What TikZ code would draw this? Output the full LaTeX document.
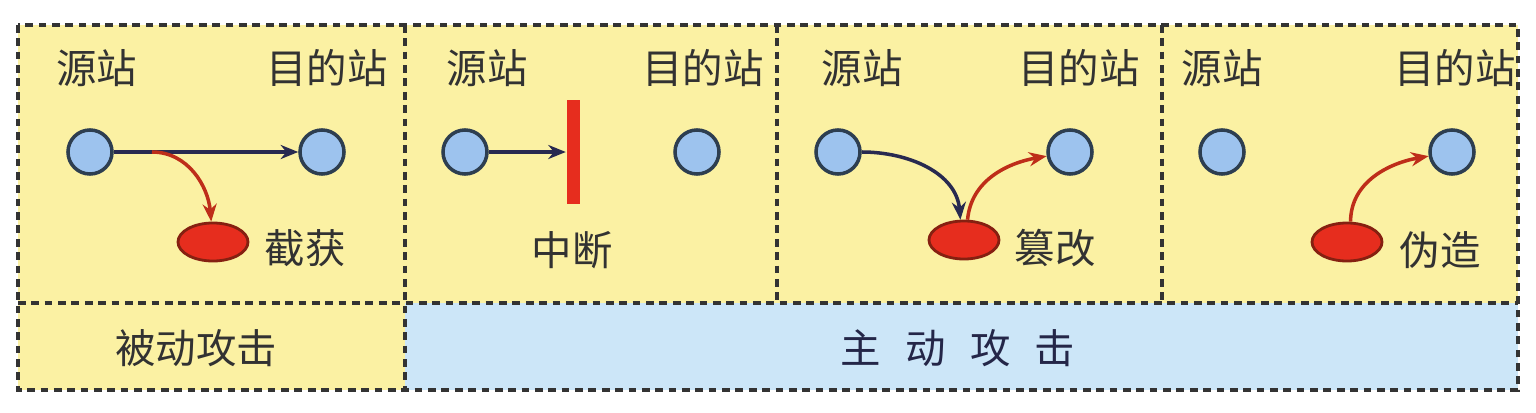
\documentclass[tikz,border=0pt]{standalone}
\usepackage{fontspec}
\setmainfont{Noto Sans CJK SC}
\usetikzlibrary{shapes.geometric,arrows.meta}
\definecolor{paleyellow}{RGB}{251,241,163}
\definecolor{paleblue}{RGB}{204,230,248}
\definecolor{stationblue}{RGB}{157,195,238}
\definecolor{stationrim}{RGB}{45,62,80}
\definecolor{thiefred}{RGB}{230,45,30}
\definecolor{linkred}{RGB}{190,45,25}
\definecolor{linknavy}{RGB}{40,42,80}
\definecolor{inkgray}{RGB}{50,50,50}
\begin{document}
\begin{tikzpicture}[x=0.01cm,y=-0.01cm,
  station/.style={circle, draw=stationrim, line width=1pt, fill=stationblue, minimum size=0.44cm, inner sep=0pt},
  thief/.style={ellipse, draw=linkred!70!black, line width=0.8pt, fill=thiefred, minimum width=0.7cm, minimum height=0.38cm, inner sep=0pt},
  lbl/.style={text=inkgray, font=\fontsize{11.5}{13}\selectfont, inner sep=0pt},
  frame/.style={draw=black!80, line width=1pt, dash pattern=on 2.2pt off 1.6pt},
  good/.style={draw=linknavy, line width=1pt, -{Stealth[length=5pt,width=4pt]}},
  evil/.style={draw=linkred, line width=1pt, -{Stealth[length=5pt,width=4pt]}}]
\useasboundingbox (0,0) rectangle (1536,412);
% background
\fill[paleyellow] (18,25) rectangle (1518,303);
\fill[paleyellow] (18,303) rectangle (405,390);
\fill[paleblue] (405,303) rectangle (1518,390);
% dashed grid
\draw[frame] (18,25) rectangle (1518,390);
\draw[frame] (18,303) -- (1518,303);
\draw[frame] (405,25) -- (405,390);
\draw[frame] (777,25) -- (777,303);
\draw[frame] (1162,25) -- (1162,303);
% bottom row
\node[lbl] (passive) at (196,348) {被动攻击};
\node[lbl, text=linknavy!90!black] (active) at (958,348) {主\hspace{0.6em}动\hspace{0.6em}攻\hspace{0.6em}击};

% interception
\node[lbl] (src1lbl) at (97,68) {源站};
\node[lbl] (dst1lbl) at (327,68) {目的站};
\node[station] (src1) at (90,152) {};
\node[station] (dst1) at (322,152) {};
\node[thief] (ell1) at (213,242) {};
\node[lbl] (cap1) at (305,248) {截获};
\coordinate (tap1) at (152,152);
\draw[good] (src1) -- (dst1);
\draw[evil] (tap1) to[out=0,in=95] (ell1.95);

% interruption
\node[lbl] (src2lbl) at (487,68) {源站};
\node[lbl] (dst2lbl) at (703,68) {目的站};
\node[station] (src2) at (465,152) {};
\node[station] (dst2) at (697,152) {};
\node[fill=thiefred, minimum width=0.13cm, minimum height=1.04cm, inner sep=0pt] (cut2) at (573,152) {};
\node[lbl] (cap2) at (572,250) {中断};
\draw[good] (src2) -- (cut2.west);

% modification
\node[lbl] (src3lbl) at (862,68) {源站};
\node[lbl] (dst3lbl) at (1079,68) {目的站};
\node[station] (src3) at (838,152) {};
\node[station] (dst3) at (1070,152) {};
\node[thief] (ell3) at (964,240) {};
\node[lbl] (cap3) at (1055,248) {篡改};
\draw[good] (src3) to[out=0,in=95] (ell3.100);
\draw[evil] (ell3.80) to[out=85,in=190] (dst3);

% fabrication
\node[lbl] (src4lbl) at (1222,68) {源站};
\node[lbl] (dst4lbl) at (1455,68) {目的站};
\node[station] (src4) at (1222,152) {};
\node[station] (dst4) at (1452,152) {};
\node[thief] (ell4) at (1347,242) {};
\node[lbl] (cap4) at (1440,250) {伪造};
\draw[evil] (ell4.80) to[out=90,in=190] (dst4);
\end{tikzpicture}
\end{document}
